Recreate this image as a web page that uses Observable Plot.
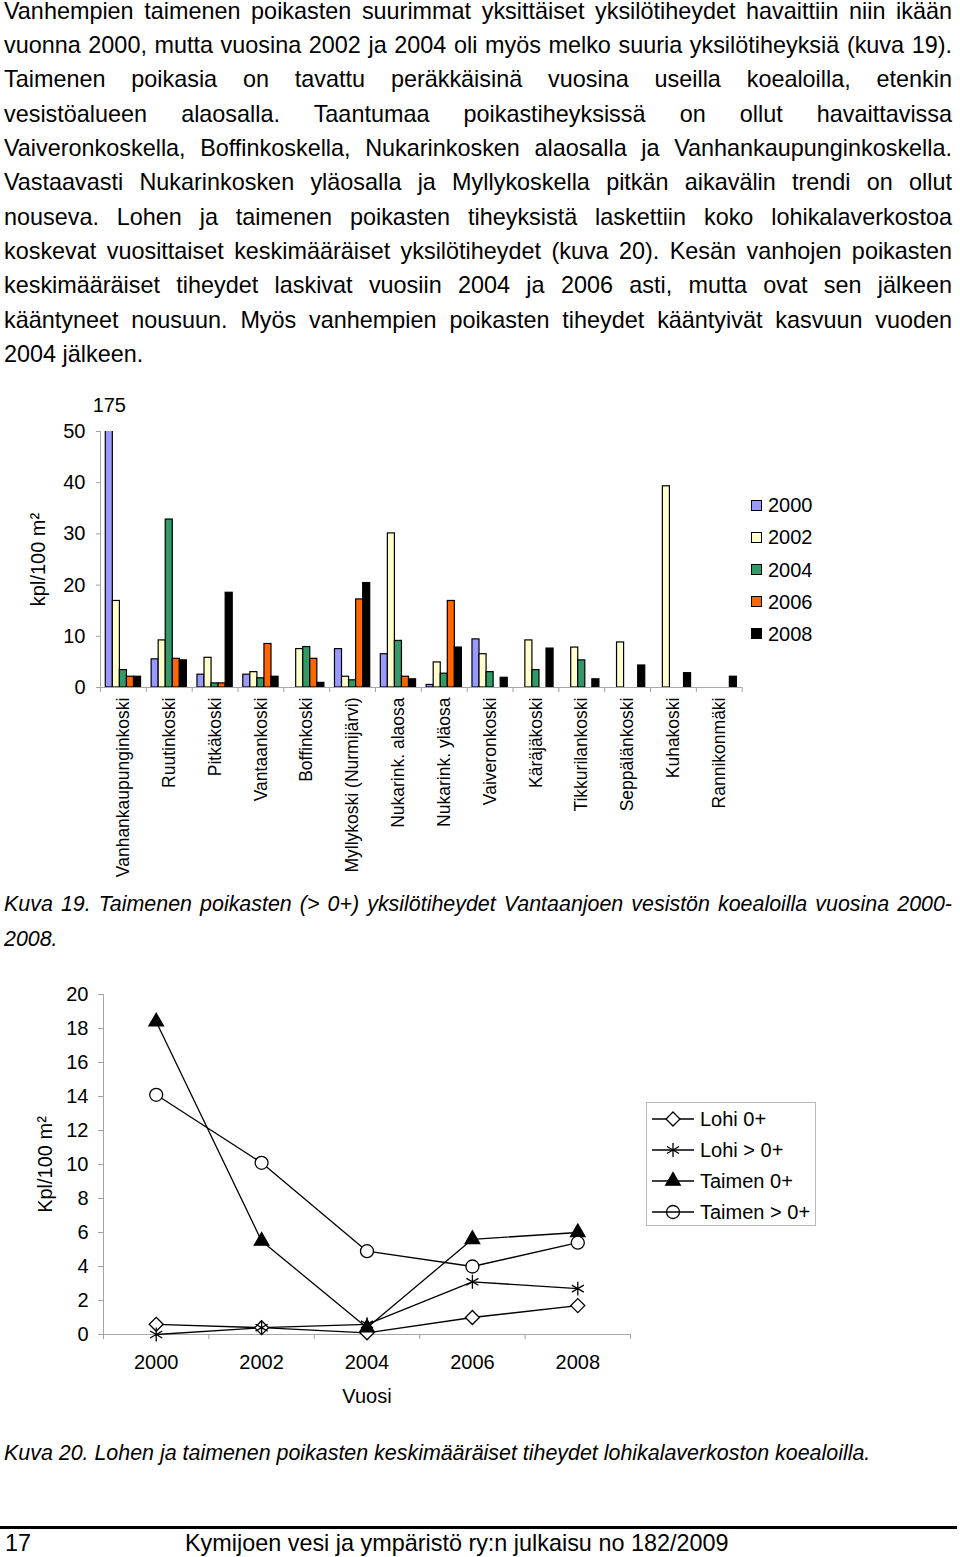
<!DOCTYPE html>
<html><head><meta charset="utf-8">
<script src="https://cdn.jsdelivr.net/npm/d3@7"></script>
<script src="https://cdn.jsdelivr.net/npm/@observablehq/plot@0.6"></script>
<style>
html, body { margin:0; padding:0; background:#fff; }
#page { position: relative; width: 960px; height: 1557px; overflow: hidden; font-family: "Liberation Sans", Arial, sans-serif; color: #000; }
.abs { position:absolute; white-space: nowrap; line-height: 1; }
.cap { font-family: "Liberation Sans Narrow", "Arial Narrow", "Liberation Sans", Arial, sans-serif; font-style: italic; font-stretch: condensed; }
svg [aria-label$="axis tick"] { stroke: #a0a0a0; }
svg .tick line { stroke: #a0a0a0; }
</style></head>
<body><div id="page"></div>
<script>
// ---------- data: bar chart (Kuva 19) ----------
const sites = ["Vanhankaupunginkoski","Ruutinkoski","Pitkäkoski","Vantaankoski","Boffinkoski","Myllykoski (Nurmijärvi)","Nukarink. alaosa","Nukarink. yläosa","Vaiveronkoski","Käräjäkoski","Tikkurilankoski","Seppälänkoski","Kuhakoski","Rannikonmäki"];
const years = [2000, 2002, 2004, 2006, 2008];
const yearColors = ["#9999ff", "#ffffcc", "#339966", "#ff6600", "#000000"];
const v2000 = [175, 5.5, 2.5, 2.5, null, 7.5, 6.5, 0.5, 9.4, null, null, null, null, null];
const v2002 = [16.9, 9.2, 5.8, 3.0, 7.5, 2.1, 30.1, 4.9, 6.5, 9.2, 7.8, 8.8, 39.3, null];
const v2004 = [3.4, 32.8, 0.8, 1.8, 7.9, 1.4, 9.1, 2.7, 3.0, 3.4, 5.3, null, null, null];
const v2006 = [2.1, 5.6, 0.8, 8.5, 5.6, 17.2, 2.1, 16.9, null, null, null, null, null, null];
const v2008 = [2.1, 5.3, 18.5, 2.1, 0.9, 20.4, 1.6, 7.8, 1.9, 7.6, 1.6, 4.3, 2.8, 2.1];
const barYTicks = [0, 10, 20, 30, 40, 50];
const barYLabel = "kpl/100 m²";

// ---------- data: line chart (Kuva 20) ----------
const lineYears = [2000, 2002, 2004, 2006, 2008];
const seriesNames = ["Lohi 0+", "Lohi > 0+", "Taimen 0+", "Taimen > 0+"];
const lohi0 = [0.6, 0.4, 0.1, 1.0, 1.7];
const lohiOver = [0.0, 0.4, 0.6, 3.1, 2.7];
const taimen0 = [18.4, 5.5, 0.4, 5.6, 6.0];
const taimenOver = [14.1, 10.1, 4.9, 4.0, 5.4];
const lineYTicks = [0, 2, 4, 6, 8, 10, 12, 14, 16, 18, 20];
const lineYLabel = "Kpl/100 m²";
const lineXLabel = "Vuosi";

// ---------- texts ----------
const bodyLines = [
 "Vanhempien taimenen poikasten suurimmat yksittäiset yksilötiheydet havaittiin niin ikään",
 "vuonna 2000, mutta vuosina 2002 ja 2004 oli myös melko suuria yksilötiheyksiä (kuva 19).",
 "Taimenen poikasia on tavattu peräkkäisinä vuosina useilla koealoilla, etenkin",
 "vesistöalueen alaosalla. Taantumaa poikastiheyksissä on ollut havaittavissa",
 "Vaiveronkoskella, Boffinkoskella, Nukarinkosken alaosalla ja Vanhankaupunginkoskella.",
 "Vastaavasti Nukarinkosken yläosalla ja Myllykoskella pitkän aikavälin trendi on ollut",
 "nouseva. Lohen ja taimenen poikasten tiheyksistä laskettiin koko lohikalaverkostoa",
 "koskevat vuosittaiset keskimääräiset yksilötiheydet (kuva 20). Kesän vanhojen poikasten",
 "keskimääräiset tiheydet laskivat vuosiin 2004 ja 2006 asti, mutta ovat sen jälkeen",
 "kääntyneet nousuun. Myös vanhempien poikasten tiheydet kääntyivät kasvuun vuoden",
 "2004 jälkeen."
];
const caption19 = ["Kuva 19. Taimenen poikasten (> 0+) yksilötiheydet Vantaanjoen vesistön koealoilla vuosina 2000-", "2008."];
const caption20 = "Kuva 20. Lohen ja taimenen poikasten keskimääräiset tiheydet lohikalaverkoston koealoilla.";
const footerPage = "17";
const footerText = "Kymijoen vesi ja ympäristö ry:n julkaisu no 182/2009";

// ---------- helpers ----------
const page = document.getElementById("page");
function addText(text, x, baseline, fs, cls) {
  const d = document.createElement("div");
  d.className = "abs " + (cls || "");
  d.style.fontSize = fs + "px";
  d.style.left = x + "px";
  d.style.top = (baseline - 0.8465 * fs) + "px";
  d.textContent = text;
  page.appendChild(d);
  return d;
}
function justify(d, width) {
  d.style.wordSpacing = "0px";
  const w = d.getBoundingClientRect().width;
  const n = (d.textContent.match(/ /g) || []).length;
  if (n) d.style.wordSpacing = ((width - w) / n) + "px";
}

// body paragraph
const BODY_FS = 23.4;
bodyLines.forEach((t, i) => {
  const d = addText(t, 4, 19.7 + 34.3 * i, BODY_FS);
  if (i < bodyLines.length - 1) justify(d, 948);
});

// ---------- bar chart ----------
const barSeries = [v2000, v2002, v2004, v2006, v2008];
const rows = [];
sites.forEach((s, si) => years.forEach((y, yi) => {
  const v = barSeries[yi][si];
  if (v != null) rows.push({site: s, si, year: y, yi, value: v});
}));
const gap = 0.75, bw = 1 / (years.length + 2 * gap);
const gray = "#a6a6a6";
const barPlot = Plot.plot({
  width: 960, height: 502,
  marginTop: 46, marginBottom: 200, marginLeft: 100, marginRight: 218.3,
  style: {fontFamily: "Liberation Sans, Arial, sans-serif", fontSize: "20px", color: "black", background: "none", overflow: "visible"},
  x: {type: "linear", domain: [0, sites.length], ticks: d3.range(sites.length + 1), tickFormat: () => "", tickSize: 5, label: null},
  y: {domain: [0, 50], ticks: barYTicks, tickSize: 4, tickPadding: 11, label: null},
  color: {type: "ordinal", domain: years, range: yearColors},
  marks: [
    Plot.rect(rows, {
      x1: d => d.si + (gap + d.yi) * bw,
      x2: d => d.si + (gap + d.yi + 1) * bw,
      y1: 0, y2: "value",
      fill: "year", stroke: "black", strokeWidth: 1.2, clip: true
    }),
    Plot.ruleY([0], {stroke: gray}),
    Plot.ruleX([0], {stroke: gray}),
    Plot.text(sites, {x: (d, i) => i + 0.5, y: 0, text: d => d, rotate: -90, textAnchor: "end", lineAnchor: "middle", dy: 10, fontSize: 17.5}),
    Plot.text(rows.filter(d => d.value > 50), {x: d => d.si + (gap + d.yi + 0.5) * bw, y: 50, text: d => String(d.value), dy: -26, fontSize: 20}),
    Plot.text([barYLabel], {frameAnchor: "left", rotate: -90, textAnchor: "middle", lineAnchor: "middle", dx: -62, text: d => d, fontSize: 20})
  ]
});
barPlot.style.position = "absolute";
barPlot.style.left = "0px";
barPlot.style.top = "385px";
page.appendChild(barPlot);

// bar legend
years.forEach((y, i) => {
  const cy = 505 + 32.2 * i;
  const sq = document.createElement("div");
  sq.style.cssText = `position:absolute;left:751px;top:${cy - 5.5}px;width:11px;height:11px;box-sizing:border-box;border:1px solid #000;background:${yearColors[i]}`;
  page.appendChild(sq);
  addText(String(y), 768, cy + 7.2, 20);
});

// caption 19 and 20 (narrow italic) — fit font size to the reference width of caption 20
const c20 = addText(caption20, 4, 1461, 25, "cap");
const capFs = 25 * 867 / c20.getBoundingClientRect().width;
c20.remove();
addText(caption20, 4, 1461, capFs, "cap");
const c19a = addText(caption19[0], 4, 912.5, capFs, "cap");
justify(c19a, 948);
addText(caption19[1], 4, 946.8, capFs, "cap");

// ---------- line chart ----------
const lineSeries = [lohi0, lohiOver, taimen0, taimenOver];
const lineRows = seriesNames.flatMap((name, k) => lineYears.map((yr, j) => ({series: name, year: yr, value: lineSeries[k][j]})));
const lineEdges = [lineYears[0] - 1, ...lineYears.map(y => y + 1)];
const markerSpec = {
  "Lohi 0+": {symbol: "diamond2", fill: "white", r: 6.3},
  "Lohi > 0+": {symbol: "asterisk", fill: "none", r: 6.6},
  "Taimen 0+": {symbol: "triangle", fill: "black", r: 5.4},
  "Taimen > 0+": {symbol: "circle", fill: "white", r: 6.5}
};
const linePlot = Plot.plot({
  width: 960, height: 439,
  marginTop: 19, marginBottom: 80, marginLeft: 103, marginRight: 330,
  style: {fontFamily: "Liberation Sans, Arial, sans-serif", fontSize: "20px", color: "black", background: "none", overflow: "visible"},
  x: {type: "linear", domain: [lineEdges[0], lineEdges[lineEdges.length - 1]], ticks: lineEdges, tickFormat: () => "", tickSize: 5, label: null},
  y: {domain: [0, 20], ticks: lineYTicks, tickSize: 5, tickPadding: 10, label: null},
  marks: [
    Plot.ruleY([0], {stroke: gray}),
    Plot.ruleX([lineEdges[0]], {stroke: gray}),
    Plot.line(lineRows, {x: "year", y: "value", z: "series", stroke: "black", strokeWidth: 1.3}),
    ...seriesNames.map(name => Plot.dot(lineRows.filter(d => d.series === name), {
      x: "year", y: "value", symbol: markerSpec[name].symbol, r: markerSpec[name].r,
      fill: markerSpec[name].fill, stroke: "black", strokeWidth: 1.3
    })),
    Plot.text(lineYears, {x: d => d, y: 0, dy: 28, text: d => String(d), fontSize: 20}),
    Plot.text([lineXLabel], {frameAnchor: "bottom", textAnchor: "middle", lineAnchor: "middle", dy: 62, text: d => d, fontSize: 20}),
    Plot.text([lineYLabel], {frameAnchor: "left", rotate: -90, textAnchor: "middle", lineAnchor: "middle", dx: -58, text: d => d, fontSize: 20})
  ]
});
linePlot.style.position = "absolute";
linePlot.style.left = "0px";
linePlot.style.top = "975px";
page.appendChild(linePlot);

// line legend
const legBox = document.createElement("div");
legBox.style.cssText = "position:absolute;left:646px;top:1102px;width:170px;height:124px;box-sizing:border-box;border:1px solid #b8b8b8;background:#fff";
page.appendChild(legBox);
const legSvg = d3.select(legBox).append("svg").attr("width", 168).attr("height", 122).style("position", "absolute").style("left", "0").style("top", "0");
const d3sym = {diamond2: d3.symbolDiamond2, asterisk: d3.symbolAsterisk, triangle: d3.symbolTriangle, circle: d3.symbolCircle};
seriesNames.forEach((name, k) => {
  const cy = 16 + 31 * k;
  const spec = markerSpec[name];
  legSvg.append("line").attr("x1", 5).attr("x2", 47).attr("y1", cy).attr("y2", cy).attr("stroke", "black").attr("stroke-width", 1.3);
  legSvg.append("path").attr("d", d3.symbol(d3sym[spec.symbol], spec.r * spec.r * Math.PI)())
    .attr("transform", `translate(26,${cy})`)
    .attr("fill", spec.symbol === "circle" ? "none" : spec.fill).attr("stroke", "black").attr("stroke-width", 1.3);
  legSvg.append("text").attr("x", 53).attr("y", cy + 7.2).attr("font-size", 20)
    .attr("font-family", "Liberation Sans, Arial, sans-serif").text(name);
});

// footer
const rule = document.createElement("div");
rule.style.cssText = "position:absolute;left:0;top:1526px;width:957px;height:3px;background:#000";
page.appendChild(rule);
addText(footerPage, 5, 1551.5, 23.4);
addText(footerText, 185, 1551.5, 23.4);
</script></body></html>
